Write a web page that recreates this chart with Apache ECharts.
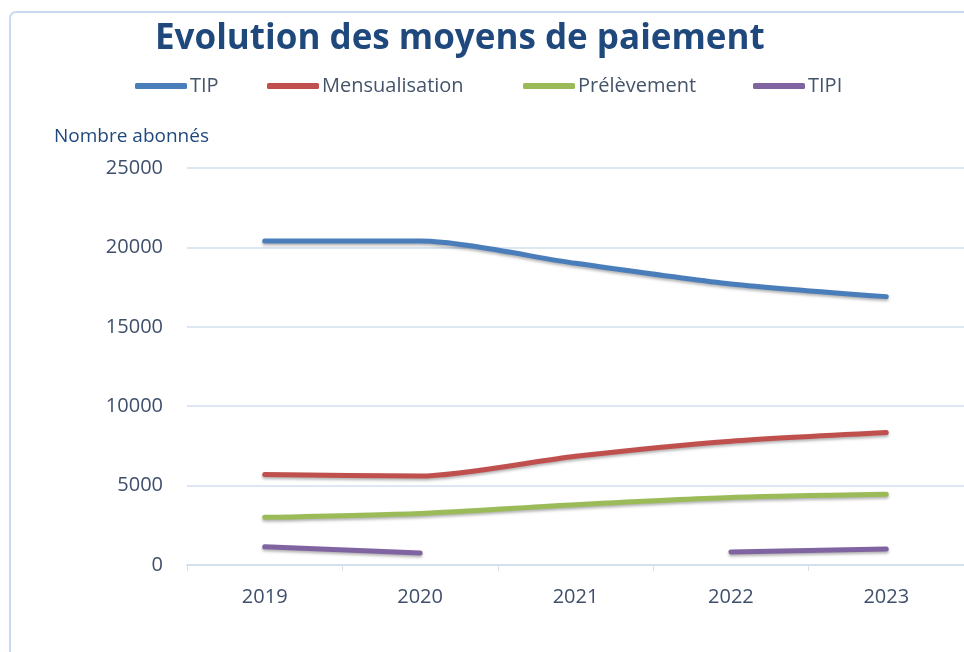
<!DOCTYPE html>
<html>
<head>
<meta charset="utf-8">
<title>Evolution des moyens de paiement</title>
<script src="https://cdn.jsdelivr.net/npm/echarts@6/dist/echarts.min.js"></script>
<style>
  html, body { margin: 0; padding: 0; background: #fff; }
  #chart { width: 964px; height: 652px; }
</style>
</head>
<body>
<div id="chart"></div>
<script>
// années
var years = ['2019', '2020', '2021', '2022', '2023'];
// nombre d'abonnés par moyen de paiement
var tip = [20400, 20400, 19000, 17700, 16900];
var mensualisation = [5700, 5600, 6850, 7800, 8350];
var prelevement = [3000, 3250, 3800, 4250, 4450];
var tipi = [1150, 750, null, 820, 1000];
var yTicks = [0, 5000, 10000, 15000, 20000, 25000];

var seriesNames = ['TIP', 'Mensualisation', 'Prélèvement', 'TIPI'];
var seriesColors = ['#4a7ebb', '#c0504d', '#9bbb59', '#8064a2'];
var seriesData = [tip, mensualisation, prelevement, tipi];
var legendLeft = [130, 262, 518, 748];

var font = '"Open Sans", "DejaVu Sans", sans-serif';
var myChart = echarts.init(document.getElementById('chart'));

var legends = seriesNames.map(function (name, i) {
  return {
    data: [name],
    left: legendLeft[i],
    top: 71,
    icon: 'roundRect',
    itemWidth: 52,
    itemHeight: 6,
    itemGap: 3,
    textStyle: { color: '#44546a', fontSize: 20, fontFamily: font, padding: [0, 0, 0, -2] }
  };
});

var series = seriesNames.map(function (name, i) {
  return {
    name: name,
    type: 'line',
    data: seriesData[i],
    smooth: 0.25,
    connectNulls: false,
    showSymbol: false,
    symbol: 'none',
    color: seriesColors[i],
    lineStyle: {
      width: 5,
      cap: 'round',
      color: seriesColors[i],
      shadowColor: 'rgba(0,0,0,0.3)',
      shadowBlur: 3,
      shadowOffsetY: 2
    }
  };
});

var option = {
  backgroundColor: '#ffffff',
  animation: false,
  graphic: [{
    type: 'rect',
    shape: { x: 10, y: 12, width: 1000, height: 700, r: 6 },
    style: { fill: 'none', stroke: '#c9daee', lineWidth: 2 }
  }],
  title: {
    text: 'Evolution des moyens de paiement',
    left: 150,
    top: 17,
    textStyle: { color: '#1f497d', fontSize: 35, fontWeight: 'bold', fontFamily: font }
  },
  legend: legends,
  grid: { left: 187, top: 168, width: 782, bottom: 87, containLabel: false },
  xAxis: {
    type: 'category',
    data: years,
    boundaryGap: true,
    axisLine: { lineStyle: { color: '#d5e0ee', width: 2 } },
    axisTick: { show: true, length: 6, lineStyle: { color: '#d5e0ee', width: 1 } },
    axisLabel: { color: '#3f4f6b', fontSize: 20, fontFamily: font, margin: 22 }
  },
  yAxis: {
    type: 'value',
    min: yTicks[0],
    max: yTicks[yTicks.length - 1],
    interval: yTicks[1] - yTicks[0],
    name: 'Nombre abonnés',
    nameLocation: 'end',
    nameGap: 22,
    nameTextStyle: { color: '#1f497d', fontSize: 19, fontFamily: font, align: 'left', padding: [0, 0, 0, -133] },
    axisLine: { show: false },
    axisTick: { show: false },
    axisLabel: {
      color: '#3f4f6b', fontSize: 20, fontFamily: font, margin: 24,
      formatter: function (v) { return String(v); }
    },
    splitLine: { lineStyle: { color: '#dde7f3', width: 2 } }
  },
  series: series
};

myChart.setOption(option);
</script>
</body>
</html>
